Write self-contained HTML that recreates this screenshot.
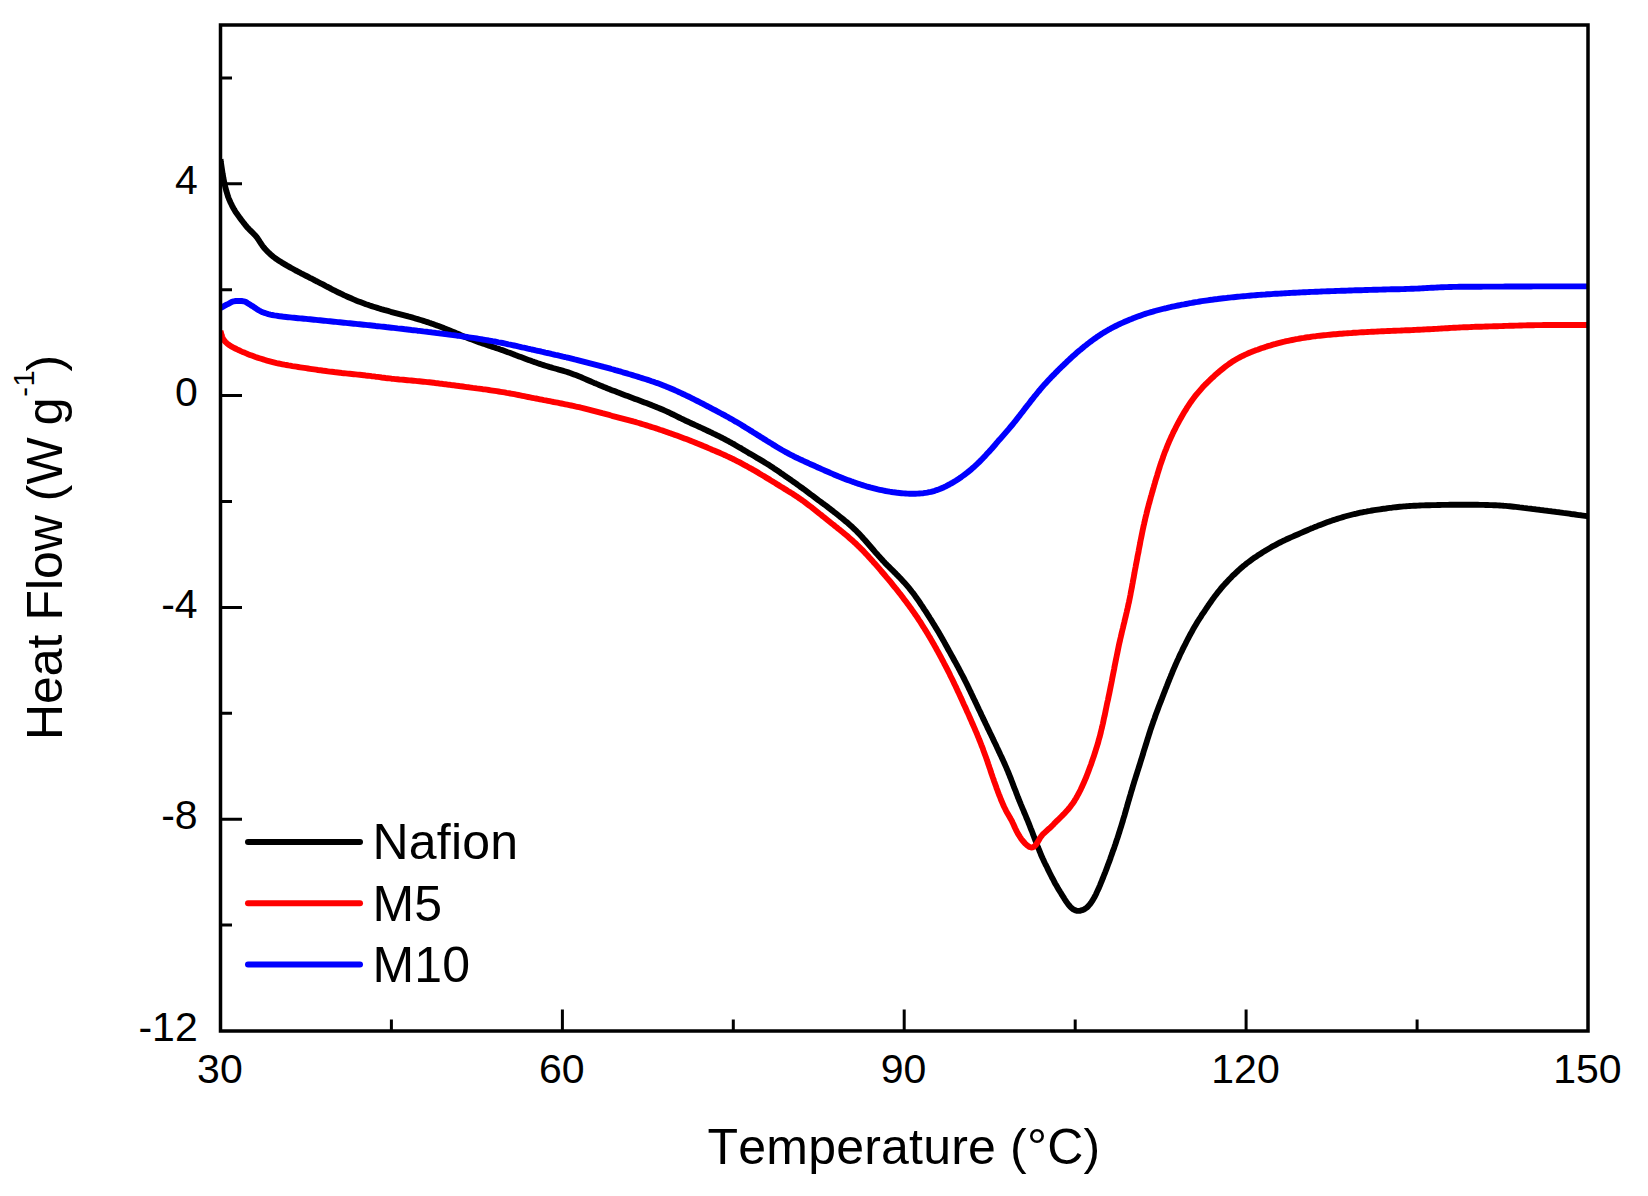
<!DOCTYPE html>
<html lang="en"><head><meta charset="utf-8"><title>Heat Flow vs Temperature</title>
<style>html,body{margin:0;padding:0;background:#fff}body{width:1648px;height:1196px;overflow:hidden}</style></head>
<body>
<svg width="1648" height="1196" viewBox="0 0 1648 1196" style="display:block">
<rect width="1648" height="1196" fill="#fff"/>
<defs><clipPath id="plot"><rect x="220.5" y="25.0" width="1367.5" height="1006.0"/></clipPath></defs>
<g fill="none" stroke-width="5.9" stroke-linejoin="round" stroke-linecap="butt" clip-path="url(#plot)">
<path d="M220.5,159.4 L220.6,159.8 L220.8,161.8 L221.1,163.8 L221.4,165.7 L221.7,167.7 L222.0,169.7 L222.3,171.7 L222.6,173.7 L223.0,175.6 L223.3,177.6 L223.7,179.6 L224.1,181.5 L224.5,183.5 L224.9,185.4 L225.4,187.4 L225.9,189.3 L226.4,191.2 L227.0,193.2 L227.6,195.1 L228.2,197.0 L228.9,198.8 L229.7,200.7 L230.5,202.5 L231.4,204.3 L232.3,206.1 L233.2,207.8 L234.2,209.6 L235.2,211.3 L236.3,213.0 L237.5,214.6 L238.6,216.2 L239.8,217.9 L241.0,219.4 L242.2,221.0 L243.4,222.6 L244.7,224.2 L245.9,225.8 L247.2,227.3 L248.6,228.7 L250.0,230.2 L251.4,231.6 L252.9,232.9 L254.3,234.4 L255.6,235.8 L256.9,237.4 L258.0,239.0 L259.1,240.7 L260.2,242.4 L261.3,244.0 L262.4,245.7 L263.6,247.3 L264.9,248.8 L266.3,250.3 L267.6,251.7 L269.1,253.1 L270.6,254.4 L272.1,255.7 L273.6,257.0 L275.2,258.2 L276.8,259.3 L278.5,260.4 L280.2,261.5 L281.9,262.6 L283.6,263.6 L285.3,264.6 L287.0,265.6 L288.8,266.6 L290.5,267.6 L292.2,268.5 L294.0,269.5 L295.7,270.5 L297.5,271.4 L299.3,272.3 L301.0,273.3 L302.8,274.2 L304.6,275.1 L306.4,276.0 L308.2,276.9 L309.9,277.8 L311.7,278.7 L313.5,279.6 L315.3,280.6 L317.1,281.5 L318.8,282.4 L320.6,283.3 L322.4,284.2 L324.2,285.2 L325.9,286.1 L327.7,287.0 L329.5,287.9 L331.2,288.9 L333.0,289.8 L334.8,290.7 L336.6,291.6 L338.4,292.5 L340.2,293.3 L342.0,294.2 L343.8,295.1 L345.6,295.9 L347.4,296.7 L349.2,297.5 L351.1,298.3 L352.9,299.1 L354.7,299.9 L356.6,300.7 L358.5,301.4 L360.3,302.1 L362.2,302.8 L364.1,303.5 L365.9,304.2 L367.8,304.8 L369.7,305.5 L371.6,306.1 L373.5,306.7 L375.4,307.3 L377.3,307.9 L379.2,308.5 L381.2,309.1 L383.1,309.6 L385.0,310.2 L386.9,310.7 L388.9,311.2 L390.8,311.8 L392.7,312.3 L394.6,312.8 L396.6,313.3 L398.5,313.8 L400.4,314.3 L402.4,314.8 L404.3,315.3 L406.2,315.8 L408.2,316.4 L410.1,316.9 L412.0,317.4 L413.9,318.0 L415.9,318.6 L417.8,319.1 L419.7,319.7 L421.6,320.3 L423.5,320.9 L425.4,321.5 L427.3,322.1 L429.2,322.8 L431.1,323.4 L433.0,324.1 L434.9,324.8 L436.7,325.4 L438.6,326.1 L440.5,326.8 L442.4,327.5 L444.2,328.3 L446.1,329.0 L447.9,329.7 L449.8,330.5 L451.6,331.3 L453.5,332.0 L455.3,332.8 L457.2,333.6 L459.0,334.3 L460.8,335.1 L462.7,335.9 L464.5,336.7 L466.4,337.4 L468.2,338.2 L470.1,338.9 L472.0,339.6 L473.8,340.3 L475.7,341.0 L477.6,341.7 L479.5,342.4 L481.3,343.0 L483.2,343.7 L485.1,344.3 L487.0,345.0 L488.9,345.6 L490.8,346.2 L492.7,346.9 L494.6,347.5 L496.5,348.2 L498.4,348.8 L500.3,349.5 L502.2,350.1 L504.0,350.8 L505.9,351.5 L507.8,352.2 L509.7,352.8 L511.5,353.5 L513.4,354.2 L515.3,355.0 L517.2,355.7 L519.0,356.4 L520.9,357.1 L522.8,357.8 L524.6,358.5 L526.5,359.2 L528.4,359.9 L530.3,360.6 L532.1,361.3 L534.0,361.9 L535.9,362.6 L537.8,363.3 L539.7,363.9 L541.6,364.5 L543.5,365.1 L545.4,365.7 L547.3,366.3 L549.2,366.9 L551.1,367.4 L553.0,368.0 L554.9,368.5 L556.8,369.0 L558.8,369.6 L560.7,370.1 L562.6,370.6 L564.5,371.2 L566.4,371.8 L568.3,372.4 L570.1,373.0 L572.0,373.7 L573.9,374.4 L575.7,375.1 L577.6,375.8 L579.4,376.6 L581.3,377.3 L583.1,378.1 L584.9,378.9 L586.8,379.7 L588.6,380.5 L590.4,381.3 L592.3,382.1 L594.1,382.9 L595.9,383.6 L597.8,384.4 L599.6,385.2 L601.5,385.9 L603.3,386.7 L605.2,387.4 L607.0,388.2 L608.9,388.9 L610.7,389.7 L612.6,390.4 L614.5,391.1 L616.3,391.8 L618.2,392.6 L620.1,393.3 L621.9,394.0 L623.8,394.7 L625.7,395.4 L627.6,396.1 L629.4,396.8 L631.3,397.5 L633.2,398.2 L635.0,398.9 L636.9,399.6 L638.8,400.3 L640.7,401.0 L642.5,401.7 L644.4,402.4 L646.3,403.1 L648.1,403.8 L650.0,404.5 L651.9,405.3 L653.7,406.0 L655.6,406.7 L657.4,407.5 L659.3,408.2 L661.1,409.0 L663.0,409.8 L664.8,410.6 L666.6,411.4 L668.4,412.2 L670.2,413.1 L672.0,414.0 L673.8,414.8 L675.5,415.7 L677.3,416.6 L679.1,417.5 L680.9,418.4 L682.7,419.2 L684.5,420.1 L686.3,421.0 L688.1,421.8 L689.9,422.6 L691.7,423.5 L693.5,424.3 L695.3,425.1 L697.1,425.9 L699.0,426.8 L700.8,427.6 L702.6,428.4 L704.4,429.3 L706.2,430.1 L708.0,431.0 L709.8,431.8 L711.6,432.7 L713.4,433.6 L715.2,434.4 L717.0,435.3 L718.8,436.2 L720.6,437.1 L722.4,438.0 L724.1,438.9 L725.9,439.9 L727.7,440.8 L729.4,441.8 L731.2,442.7 L732.9,443.7 L734.7,444.7 L736.4,445.7 L738.1,446.7 L739.8,447.7 L741.6,448.7 L743.3,449.7 L745.0,450.8 L746.7,451.8 L748.4,452.8 L750.2,453.8 L751.9,454.8 L753.6,455.8 L755.3,456.8 L757.0,457.9 L758.8,458.9 L760.5,459.9 L762.2,460.9 L763.9,461.9 L765.6,463.0 L767.3,464.0 L769.0,465.1 L770.7,466.2 L772.4,467.3 L774.0,468.4 L775.7,469.5 L777.3,470.6 L779.0,471.7 L780.6,472.9 L782.3,474.0 L783.9,475.1 L785.5,476.3 L787.2,477.4 L788.8,478.6 L790.5,479.7 L792.1,480.9 L793.7,482.0 L795.4,483.2 L797.0,484.3 L798.6,485.5 L800.2,486.7 L801.8,487.8 L803.5,489.0 L805.1,490.2 L806.7,491.4 L808.3,492.6 L809.9,493.8 L811.5,495.0 L813.1,496.2 L814.7,497.4 L816.3,498.6 L817.9,499.8 L819.5,501.0 L821.1,502.2 L822.7,503.4 L824.3,504.5 L825.9,505.7 L827.5,506.9 L829.1,508.2 L830.7,509.4 L832.3,510.6 L833.8,511.8 L835.4,513.0 L837.0,514.3 L838.5,515.5 L840.1,516.8 L841.7,518.0 L843.2,519.3 L844.7,520.6 L846.3,521.8 L847.8,523.1 L849.3,524.4 L850.8,525.8 L852.3,527.1 L853.7,528.5 L855.2,529.9 L856.6,531.2 L858.0,532.7 L859.4,534.1 L860.7,535.5 L862.1,537.0 L863.4,538.5 L864.8,540.0 L866.1,541.5 L867.4,543.0 L868.7,544.5 L870.0,546.0 L871.3,547.5 L872.6,549.0 L873.9,550.5 L875.2,552.1 L876.5,553.6 L877.9,555.1 L879.2,556.6 L880.5,558.0 L881.9,559.5 L883.2,561.0 L884.6,562.4 L886.0,563.9 L887.4,565.3 L888.8,566.7 L890.2,568.1 L891.6,569.5 L893.1,570.9 L894.5,572.3 L895.9,573.7 L897.3,575.2 L898.7,576.6 L900.1,578.0 L901.5,579.5 L902.8,580.9 L904.2,582.4 L905.5,583.9 L906.8,585.4 L908.1,586.9 L909.4,588.4 L910.6,590.0 L911.8,591.6 L913.1,593.1 L914.3,594.7 L915.4,596.3 L916.6,598.0 L917.7,599.6 L918.9,601.2 L920.0,602.9 L921.1,604.6 L922.2,606.2 L923.3,607.9 L924.4,609.6 L925.5,611.2 L926.6,612.9 L927.7,614.6 L928.8,616.3 L929.8,618.0 L930.9,619.7 L932.0,621.4 L933.0,623.1 L934.1,624.8 L935.1,626.5 L936.1,628.2 L937.2,629.9 L938.2,631.6 L939.2,633.3 L940.2,635.1 L941.2,636.8 L942.2,638.5 L943.2,640.3 L944.2,642.0 L945.1,643.8 L946.1,645.5 L947.1,647.3 L948.0,649.0 L949.0,650.8 L950.0,652.5 L950.9,654.3 L951.9,656.0 L952.9,657.8 L953.8,659.5 L954.8,661.3 L955.8,663.0 L956.7,664.8 L957.7,666.5 L958.6,668.3 L959.6,670.1 L960.5,671.8 L961.4,673.6 L962.4,675.4 L963.3,677.1 L964.2,678.9 L965.1,680.7 L966.0,682.5 L966.9,684.3 L967.8,686.1 L968.6,687.9 L969.5,689.7 L970.4,691.5 L971.2,693.3 L972.1,695.1 L972.9,696.9 L973.8,698.7 L974.7,700.5 L975.5,702.3 L976.4,704.1 L977.2,705.9 L978.1,707.7 L978.9,709.5 L979.8,711.3 L980.7,713.1 L981.5,715.0 L982.4,716.8 L983.2,718.6 L984.1,720.4 L985.0,722.2 L985.8,724.0 L986.7,725.8 L987.5,727.6 L988.4,729.4 L989.3,731.2 L990.1,733.0 L991.0,734.8 L991.9,736.6 L992.7,738.4 L993.6,740.2 L994.4,742.0 L995.3,743.8 L996.2,745.6 L997.0,747.4 L997.9,749.3 L998.7,751.1 L999.6,752.9 L1000.4,754.7 L1001.3,756.5 L1002.1,758.3 L1002.9,760.1 L1003.8,762.0 L1004.6,763.8 L1005.4,765.6 L1006.2,767.4 L1007.0,769.3 L1007.8,771.1 L1008.5,773.0 L1009.3,774.8 L1010.0,776.7 L1010.8,778.5 L1011.5,780.4 L1012.2,782.3 L1012.9,784.1 L1013.6,786.0 L1014.3,787.9 L1015.1,789.7 L1015.8,791.6 L1016.5,793.5 L1017.2,795.3 L1017.9,797.2 L1018.7,799.0 L1019.4,800.9 L1020.2,802.7 L1020.9,804.6 L1021.7,806.4 L1022.5,808.3 L1023.3,810.1 L1024.0,812.0 L1024.8,813.8 L1025.6,815.6 L1026.3,817.5 L1027.1,819.3 L1027.9,821.2 L1028.6,823.0 L1029.4,824.9 L1030.1,826.8 L1030.8,828.6 L1031.6,830.5 L1032.3,832.3 L1033.0,834.2 L1033.7,836.1 L1034.4,837.9 L1035.1,839.8 L1035.9,841.7 L1036.6,843.5 L1037.3,845.4 L1038.0,847.3 L1038.8,849.1 L1039.5,851.0 L1040.3,852.8 L1041.0,854.7 L1041.8,856.5 L1042.6,858.3 L1043.5,860.1 L1044.3,862.0 L1045.2,863.8 L1046.1,865.5 L1047.0,867.3 L1047.8,869.1 L1048.7,870.9 L1049.6,872.7 L1050.5,874.5 L1051.4,876.3 L1052.3,878.1 L1053.3,879.8 L1054.2,881.6 L1055.1,883.4 L1056.1,885.1 L1057.1,886.8 L1058.1,888.6 L1059.2,890.3 L1060.2,892.0 L1061.3,893.7 L1062.3,895.4 L1063.4,897.1 L1064.4,898.8 L1065.5,900.5 L1066.6,902.1 L1067.7,903.7 L1069.0,905.3 L1070.3,906.8 L1071.7,908.1 L1073.3,909.3 L1074.9,910.1 L1076.6,910.7 L1078.5,910.9 L1080.3,910.7 L1082.1,910.2 L1083.9,909.5 L1085.5,908.5 L1087.1,907.3 L1088.5,905.9 L1089.8,904.4 L1091.0,902.8 L1092.1,901.2 L1093.1,899.5 L1094.1,897.8 L1095.1,896.0 L1096.0,894.2 L1096.8,892.4 L1097.6,890.6 L1098.5,888.8 L1099.3,886.9 L1100.1,885.1 L1100.8,883.2 L1101.6,881.4 L1102.3,879.5 L1103.1,877.7 L1103.8,875.8 L1104.5,874.0 L1105.3,872.1 L1106.0,870.2 L1106.7,868.4 L1107.4,866.5 L1108.1,864.6 L1108.8,862.7 L1109.5,860.9 L1110.2,859.0 L1110.8,857.1 L1111.5,855.2 L1112.2,853.3 L1112.8,851.4 L1113.5,849.6 L1114.2,847.7 L1114.8,845.8 L1115.5,843.9 L1116.1,842.0 L1116.7,840.1 L1117.4,838.2 L1118.0,836.3 L1118.6,834.4 L1119.2,832.5 L1119.8,830.6 L1120.4,828.7 L1121.0,826.8 L1121.6,824.9 L1122.2,822.9 L1122.8,821.0 L1123.3,819.1 L1123.9,817.2 L1124.5,815.3 L1125.0,813.4 L1125.6,811.4 L1126.1,809.5 L1126.7,807.6 L1127.2,805.7 L1127.8,803.7 L1128.3,801.8 L1128.9,799.9 L1129.4,798.0 L1130.0,796.1 L1130.6,794.1 L1131.1,792.2 L1131.7,790.3 L1132.3,788.4 L1132.8,786.5 L1133.4,784.6 L1134.0,782.6 L1134.6,780.7 L1135.2,778.8 L1135.8,776.9 L1136.4,775.0 L1137.0,773.1 L1137.6,771.2 L1138.2,769.3 L1138.8,767.4 L1139.4,765.5 L1140.0,763.6 L1140.6,761.7 L1141.2,759.7 L1141.8,757.8 L1142.4,755.9 L1143.0,754.0 L1143.5,752.1 L1144.1,750.2 L1144.7,748.3 L1145.3,746.4 L1145.9,744.5 L1146.5,742.6 L1147.1,740.6 L1147.7,738.7 L1148.3,736.8 L1148.9,734.9 L1149.5,733.0 L1150.1,731.1 L1150.7,729.2 L1151.4,727.3 L1152.0,725.4 L1152.7,723.5 L1153.3,721.6 L1154.0,719.8 L1154.7,717.9 L1155.3,716.0 L1156.0,714.1 L1156.7,712.2 L1157.4,710.4 L1158.1,708.5 L1158.8,706.6 L1159.5,704.8 L1160.2,702.9 L1161.0,701.0 L1161.7,699.2 L1162.4,697.3 L1163.1,695.4 L1163.8,693.6 L1164.6,691.7 L1165.3,689.8 L1166.0,688.0 L1166.8,686.1 L1167.5,684.2 L1168.2,682.4 L1169.0,680.5 L1169.7,678.7 L1170.5,676.8 L1171.2,675.0 L1172.0,673.1 L1172.7,671.3 L1173.5,669.4 L1174.3,667.6 L1175.1,665.8 L1175.9,663.9 L1176.7,662.1 L1177.5,660.3 L1178.4,658.5 L1179.2,656.6 L1180.0,654.8 L1180.9,653.0 L1181.8,651.2 L1182.6,649.4 L1183.5,647.6 L1184.4,645.8 L1185.3,644.1 L1186.2,642.3 L1187.1,640.5 L1188.0,638.7 L1189.0,636.9 L1189.9,635.2 L1190.8,633.4 L1191.8,631.7 L1192.8,629.9 L1193.7,628.2 L1194.7,626.5 L1195.8,624.7 L1196.8,623.0 L1197.8,621.3 L1198.9,619.7 L1200.0,618.0 L1201.1,616.3 L1202.1,614.6 L1203.3,613.0 L1204.4,611.3 L1205.5,609.7 L1206.6,608.0 L1207.7,606.4 L1208.8,604.7 L1210.0,603.1 L1211.1,601.5 L1212.2,599.8 L1213.4,598.2 L1214.6,596.6 L1215.8,595.0 L1217.0,593.4 L1218.2,591.9 L1219.5,590.3 L1220.7,588.8 L1222.0,587.3 L1223.3,585.8 L1224.7,584.3 L1226.0,582.8 L1227.4,581.4 L1228.7,579.9 L1230.1,578.5 L1231.5,577.1 L1232.9,575.6 L1234.4,574.3 L1235.8,572.9 L1237.3,571.5 L1238.7,570.2 L1240.2,568.8 L1241.7,567.5 L1243.2,566.2 L1244.8,565.0 L1246.3,563.7 L1247.9,562.5 L1249.5,561.3 L1251.1,560.1 L1252.7,558.9 L1254.3,557.8 L1256.0,556.7 L1257.6,555.6 L1259.3,554.5 L1261.0,553.4 L1262.7,552.3 L1264.4,551.3 L1266.1,550.2 L1267.8,549.2 L1269.5,548.2 L1271.2,547.2 L1273.0,546.2 L1274.7,545.3 L1276.5,544.3 L1278.2,543.4 L1280.0,542.5 L1281.8,541.6 L1283.6,540.7 L1285.4,539.9 L1287.2,539.0 L1289.0,538.2 L1290.8,537.4 L1292.7,536.6 L1294.5,535.8 L1296.3,535.0 L1298.2,534.2 L1300.0,533.4 L1301.8,532.6 L1303.7,531.8 L1305.5,531.0 L1307.3,530.2 L1309.2,529.4 L1311.0,528.6 L1312.8,527.9 L1314.7,527.1 L1316.5,526.4 L1318.4,525.6 L1320.2,524.9 L1322.1,524.2 L1324.0,523.5 L1325.8,522.8 L1327.7,522.1 L1329.6,521.4 L1331.5,520.8 L1333.4,520.1 L1335.3,519.5 L1337.2,518.9 L1339.1,518.3 L1341.0,517.7 L1342.9,517.1 L1344.8,516.5 L1346.7,516.0 L1348.7,515.5 L1350.6,515.0 L1352.5,514.5 L1354.5,514.0 L1356.4,513.6 L1358.4,513.1 L1360.3,512.7 L1362.3,512.3 L1364.2,511.9 L1366.2,511.6 L1368.2,511.2 L1370.1,510.9 L1372.1,510.5 L1374.1,510.2 L1376.0,509.9 L1378.0,509.6 L1380.0,509.3 L1382.0,509.0 L1384.0,508.7 L1385.9,508.5 L1387.9,508.2 L1389.9,507.9 L1391.9,507.7 L1393.9,507.4 L1395.8,507.2 L1397.8,507.0 L1399.8,506.8 L1401.8,506.6 L1403.8,506.4 L1405.8,506.3 L1407.8,506.1 L1409.8,506.0 L1411.8,505.9 L1413.8,505.8 L1415.8,505.7 L1417.8,505.6 L1419.8,505.5 L1421.8,505.4 L1423.8,505.4 L1425.8,505.3 L1427.8,505.3 L1429.8,505.2 L1431.8,505.1 L1433.8,505.1 L1435.8,505.1 L1437.8,505.0 L1439.8,505.0 L1441.8,504.9 L1443.8,504.9 L1445.8,504.9 L1447.8,504.9 L1449.8,504.8 L1451.8,504.8 L1453.8,504.8 L1455.8,504.8 L1457.8,504.8 L1459.8,504.8 L1461.8,504.8 L1463.8,504.8 L1465.8,504.8 L1467.8,504.8 L1469.8,504.8 L1471.8,504.8 L1473.8,504.8 L1475.8,504.8 L1477.8,504.8 L1479.7,504.9 L1481.7,504.9 L1483.7,504.9 L1485.7,505.0 L1487.7,505.0 L1489.7,505.1 L1491.7,505.1 L1493.7,505.2 L1495.7,505.3 L1497.7,505.4 L1499.7,505.5 L1501.7,505.6 L1503.7,505.8 L1505.7,505.9 L1507.7,506.1 L1509.7,506.3 L1511.7,506.5 L1513.7,506.7 L1515.6,506.9 L1517.6,507.1 L1519.6,507.4 L1521.6,507.6 L1523.6,507.9 L1525.6,508.1 L1527.6,508.4 L1529.5,508.6 L1531.5,508.8 L1533.5,509.1 L1535.5,509.3 L1537.5,509.6 L1539.5,509.8 L1541.4,510.1 L1543.4,510.3 L1545.4,510.6 L1547.4,510.8 L1549.4,511.1 L1551.4,511.3 L1553.4,511.6 L1555.3,511.8 L1557.3,512.1 L1559.3,512.3 L1561.3,512.6 L1563.3,512.9 L1565.2,513.1 L1567.2,513.4 L1569.2,513.7 L1571.2,514.0 L1573.2,514.2 L1575.2,514.5 L1577.1,514.8 L1579.1,515.1 L1581.1,515.3 L1583.1,515.6 L1585.0,515.9 L1587.0,516.2 L1588.0,516.3" stroke="#000"/>
<path d="M220.5,330.6 L220.6,331.1 L221.1,333.1 L221.6,335.0 L222.2,336.9 L223.0,338.7 L224.1,340.3 L225.4,341.9 L226.8,343.2 L228.4,344.5 L230.0,345.6 L231.7,346.7 L233.5,347.6 L235.3,348.5 L237.1,349.4 L238.9,350.2 L240.7,351.1 L242.5,351.9 L244.4,352.6 L246.2,353.4 L248.1,354.2 L249.9,354.9 L251.8,355.6 L253.7,356.3 L255.5,357.0 L257.4,357.6 L259.3,358.2 L261.2,358.8 L263.1,359.4 L265.0,360.0 L267.0,360.6 L268.9,361.1 L270.8,361.6 L272.7,362.1 L274.7,362.6 L276.6,363.1 L278.6,363.5 L280.5,363.9 L282.5,364.3 L284.4,364.7 L286.4,365.0 L288.4,365.4 L290.3,365.7 L292.3,366.1 L294.3,366.4 L296.3,366.7 L298.2,367.0 L300.2,367.3 L302.2,367.6 L304.2,367.9 L306.1,368.2 L308.1,368.5 L310.1,368.8 L312.1,369.1 L314.1,369.4 L316.0,369.7 L318.0,370.0 L320.0,370.2 L322.0,370.5 L324.0,370.8 L325.9,371.0 L327.9,371.3 L329.9,371.6 L331.9,371.8 L333.9,372.0 L335.9,372.3 L337.9,372.5 L339.8,372.7 L341.8,373.0 L343.8,373.2 L345.8,373.4 L347.8,373.6 L349.8,373.8 L351.8,374.0 L353.8,374.2 L355.7,374.4 L357.7,374.6 L359.7,374.8 L361.7,375.0 L363.7,375.2 L365.7,375.5 L367.7,375.7 L369.7,375.9 L371.6,376.2 L373.6,376.4 L375.6,376.7 L377.6,376.9 L379.6,377.2 L381.6,377.5 L383.5,377.7 L385.5,378.0 L387.5,378.2 L389.5,378.4 L391.5,378.7 L393.5,378.9 L395.4,379.1 L397.4,379.3 L399.4,379.5 L401.4,379.6 L403.4,379.8 L405.4,380.0 L407.4,380.2 L409.4,380.4 L411.4,380.5 L413.4,380.7 L415.4,380.9 L417.3,381.1 L419.3,381.3 L421.3,381.5 L423.3,381.7 L425.3,381.9 L427.3,382.1 L429.3,382.3 L431.3,382.5 L433.3,382.7 L435.2,383.0 L437.2,383.2 L439.2,383.5 L441.2,383.7 L443.2,384.0 L445.2,384.2 L447.2,384.5 L449.1,384.7 L451.1,385.0 L453.1,385.2 L455.1,385.5 L457.1,385.8 L459.0,386.0 L461.0,386.3 L463.0,386.5 L465.0,386.8 L467.0,387.1 L469.0,387.3 L470.9,387.6 L472.9,387.9 L474.9,388.1 L476.9,388.4 L478.9,388.6 L480.9,388.9 L482.8,389.2 L484.8,389.4 L486.8,389.7 L488.8,390.0 L490.8,390.3 L492.7,390.6 L494.7,390.9 L496.7,391.2 L498.7,391.5 L500.6,391.8 L502.6,392.1 L504.6,392.4 L506.6,392.8 L508.5,393.1 L510.5,393.5 L512.5,393.8 L514.4,394.2 L516.4,394.6 L518.4,395.0 L520.3,395.4 L522.3,395.8 L524.2,396.2 L526.2,396.6 L528.1,397.0 L530.1,397.4 L532.1,397.8 L534.0,398.2 L536.0,398.5 L537.9,398.9 L539.9,399.3 L541.9,399.7 L543.8,400.1 L545.8,400.4 L547.8,400.8 L549.7,401.2 L551.7,401.6 L553.6,402.0 L555.6,402.3 L557.6,402.7 L559.5,403.1 L561.5,403.5 L563.4,403.9 L565.4,404.3 L567.3,404.7 L569.3,405.1 L571.3,405.5 L573.2,405.9 L575.2,406.4 L577.1,406.8 L579.1,407.2 L581.0,407.7 L582.9,408.1 L584.9,408.6 L586.8,409.1 L588.8,409.6 L590.7,410.1 L592.6,410.6 L594.6,411.1 L596.5,411.6 L598.4,412.1 L600.3,412.6 L602.3,413.2 L604.2,413.7 L606.1,414.2 L608.1,414.7 L610.0,415.2 L611.9,415.8 L613.8,416.3 L615.8,416.8 L617.7,417.3 L619.6,417.8 L621.6,418.3 L623.5,418.8 L625.4,419.3 L627.4,419.8 L629.3,420.3 L631.2,420.8 L633.2,421.4 L635.1,421.9 L637.0,422.5 L638.9,423.0 L640.8,423.6 L642.7,424.2 L644.6,424.8 L646.5,425.4 L648.5,426.0 L650.4,426.6 L652.3,427.2 L654.2,427.8 L656.1,428.4 L658.0,429.0 L659.9,429.7 L661.8,430.3 L663.6,430.9 L665.5,431.6 L667.4,432.2 L669.3,432.9 L671.2,433.6 L673.1,434.2 L675.0,434.9 L676.8,435.6 L678.7,436.3 L680.6,437.0 L682.5,437.7 L684.3,438.4 L686.2,439.1 L688.1,439.8 L689.9,440.5 L691.8,441.3 L693.7,442.0 L695.5,442.7 L697.4,443.5 L699.2,444.2 L701.1,445.0 L702.9,445.8 L704.7,446.5 L706.6,447.3 L708.4,448.1 L710.3,448.9 L712.1,449.7 L714.0,450.4 L715.8,451.2 L717.6,452.0 L719.5,452.8 L721.3,453.6 L723.1,454.4 L724.9,455.2 L726.8,456.1 L728.6,456.9 L730.4,457.8 L732.2,458.6 L734.0,459.5 L735.7,460.4 L737.5,461.3 L739.3,462.2 L741.1,463.2 L742.8,464.1 L744.6,465.1 L746.4,466.0 L748.1,467.0 L749.8,468.0 L751.6,468.9 L753.3,469.9 L755.1,470.9 L756.8,471.9 L758.5,472.9 L760.2,474.0 L761.9,475.0 L763.7,476.0 L765.4,477.1 L767.1,478.1 L768.8,479.1 L770.5,480.2 L772.2,481.2 L773.9,482.3 L775.6,483.3 L777.3,484.4 L779.0,485.4 L780.7,486.5 L782.4,487.5 L784.1,488.6 L785.8,489.6 L787.5,490.7 L789.2,491.7 L790.9,492.8 L792.6,493.8 L794.3,494.9 L795.9,496.0 L797.6,497.1 L799.2,498.2 L800.9,499.4 L802.5,500.5 L804.1,501.7 L805.7,502.9 L807.3,504.1 L808.9,505.3 L810.5,506.5 L812.1,507.7 L813.7,509.0 L815.2,510.2 L816.8,511.5 L818.3,512.7 L819.9,514.0 L821.5,515.2 L823.0,516.5 L824.6,517.7 L826.2,519.0 L827.7,520.2 L829.3,521.5 L830.8,522.7 L832.4,524.0 L834.0,525.2 L835.5,526.5 L837.1,527.7 L838.6,529.0 L840.2,530.2 L841.8,531.5 L843.3,532.7 L844.8,534.0 L846.4,535.3 L847.9,536.6 L849.4,537.9 L850.9,539.2 L852.4,540.5 L853.9,541.9 L855.4,543.2 L856.8,544.6 L858.2,546.0 L859.7,547.4 L861.1,548.8 L862.5,550.2 L863.9,551.6 L865.2,553.1 L866.6,554.5 L868.0,556.0 L869.3,557.5 L870.7,559.0 L872.0,560.4 L873.3,561.9 L874.7,563.4 L876.0,564.9 L877.3,566.4 L878.6,567.9 L879.9,569.4 L881.2,571.0 L882.5,572.5 L883.8,574.0 L885.1,575.5 L886.4,577.1 L887.7,578.6 L889.0,580.1 L890.3,581.7 L891.5,583.2 L892.8,584.8 L894.0,586.3 L895.3,587.9 L896.6,589.4 L897.8,591.0 L899.0,592.6 L900.3,594.1 L901.5,595.7 L902.7,597.3 L903.9,598.9 L905.1,600.5 L906.3,602.1 L907.5,603.7 L908.7,605.3 L909.9,606.9 L911.1,608.5 L912.2,610.2 L913.4,611.8 L914.5,613.4 L915.6,615.1 L916.8,616.7 L917.9,618.4 L919.0,620.1 L920.1,621.7 L921.2,623.4 L922.2,625.1 L923.3,626.8 L924.4,628.5 L925.4,630.2 L926.5,631.9 L927.5,633.6 L928.5,635.3 L929.6,637.0 L930.6,638.8 L931.6,640.5 L932.6,642.2 L933.6,643.9 L934.6,645.7 L935.6,647.4 L936.5,649.2 L937.5,650.9 L938.5,652.7 L939.4,654.4 L940.4,656.2 L941.3,657.9 L942.2,659.7 L943.2,661.5 L944.1,663.3 L945.0,665.0 L945.9,666.8 L946.9,668.6 L947.8,670.4 L948.7,672.2 L949.6,673.9 L950.4,675.7 L951.3,677.5 L952.2,679.3 L953.1,681.1 L953.9,682.9 L954.8,684.7 L955.7,686.5 L956.5,688.3 L957.4,690.2 L958.2,692.0 L959.1,693.8 L959.9,695.6 L960.7,697.4 L961.6,699.2 L962.4,701.1 L963.2,702.9 L964.0,704.7 L964.9,706.5 L965.7,708.3 L966.5,710.2 L967.3,712.0 L968.2,713.8 L969.0,715.6 L969.8,717.5 L970.6,719.3 L971.4,721.1 L972.2,723.0 L973.0,724.8 L973.8,726.6 L974.6,728.4 L975.4,730.3 L976.2,732.1 L977.0,734.0 L977.7,735.8 L978.5,737.7 L979.2,739.5 L980.0,741.4 L980.7,743.2 L981.4,745.1 L982.2,747.0 L982.9,748.8 L983.5,750.7 L984.2,752.6 L984.9,754.5 L985.6,756.3 L986.3,758.2 L986.9,760.1 L987.6,762.0 L988.2,763.9 L988.9,765.8 L989.5,767.7 L990.2,769.6 L990.8,771.5 L991.4,773.4 L992.1,775.3 L992.7,777.2 L993.4,779.0 L994.0,780.9 L994.7,782.8 L995.4,784.7 L996.1,786.6 L996.7,788.5 L997.4,790.3 L998.1,792.2 L998.8,794.1 L999.6,796.0 L1000.3,797.8 L1001.0,799.7 L1001.8,801.5 L1002.6,803.4 L1003.4,805.2 L1004.2,807.0 L1005.1,808.8 L1006.0,810.6 L1006.9,812.3 L1007.9,814.1 L1008.9,815.8 L1009.9,817.5 L1010.9,819.3 L1011.9,821.0 L1012.7,822.8 L1013.6,824.6 L1014.4,826.5 L1015.2,828.3 L1016.1,830.1 L1017.0,831.9 L1017.9,833.6 L1019.0,835.3 L1020.0,837.0 L1021.1,838.7 L1022.3,840.3 L1023.6,841.8 L1024.9,843.3 L1026.4,844.7 L1027.9,845.9 L1029.5,847.0 L1031.2,847.5 L1032.9,847.3 L1034.4,846.4 L1035.8,845.0 L1036.9,843.4 L1037.9,841.7 L1038.9,840.0 L1039.8,838.3 L1041.0,836.6 L1042.2,835.1 L1043.6,833.6 L1045.0,832.3 L1046.5,830.9 L1048.0,829.6 L1049.5,828.3 L1051.0,826.9 L1052.4,825.5 L1053.8,824.1 L1055.2,822.6 L1056.6,821.2 L1058.0,819.8 L1059.5,818.4 L1060.9,817.0 L1062.3,815.6 L1063.7,814.2 L1065.1,812.7 L1066.4,811.3 L1067.8,809.8 L1069.1,808.3 L1070.3,806.7 L1071.5,805.1 L1072.7,803.5 L1073.8,801.9 L1074.8,800.2 L1075.9,798.5 L1076.9,796.8 L1077.8,795.0 L1078.8,793.3 L1079.7,791.5 L1080.6,789.7 L1081.4,787.9 L1082.3,786.1 L1083.1,784.3 L1083.9,782.5 L1084.7,780.6 L1085.5,778.8 L1086.3,777.0 L1087.0,775.1 L1087.7,773.2 L1088.4,771.4 L1089.1,769.5 L1089.8,767.6 L1090.5,765.8 L1091.2,763.9 L1091.8,762.0 L1092.5,760.1 L1093.1,758.2 L1093.8,756.3 L1094.4,754.4 L1095.0,752.5 L1095.6,750.6 L1096.2,748.7 L1096.8,746.8 L1097.4,744.9 L1098.0,743.0 L1098.5,741.0 L1099.0,739.1 L1099.6,737.2 L1100.1,735.3 L1100.6,733.3 L1101.0,731.4 L1101.5,729.4 L1102.0,727.5 L1102.4,725.6 L1102.9,723.6 L1103.3,721.6 L1103.7,719.7 L1104.1,717.7 L1104.6,715.8 L1105.0,713.8 L1105.4,711.9 L1105.8,709.9 L1106.2,708.0 L1106.6,706.0 L1107.0,704.0 L1107.4,702.1 L1107.9,700.1 L1108.3,698.2 L1108.7,696.2 L1109.1,694.3 L1109.5,692.3 L1109.9,690.3 L1110.3,688.4 L1110.7,686.4 L1111.1,684.5 L1111.5,682.5 L1111.9,680.5 L1112.2,678.6 L1112.6,676.6 L1113.0,674.6 L1113.4,672.7 L1113.8,670.7 L1114.2,668.8 L1114.5,666.8 L1114.9,664.8 L1115.3,662.9 L1115.7,660.9 L1116.1,658.9 L1116.5,657.0 L1116.9,655.0 L1117.3,653.1 L1117.7,651.1 L1118.1,649.1 L1118.5,647.2 L1118.9,645.2 L1119.3,643.3 L1119.8,641.3 L1120.2,639.4 L1120.7,637.4 L1121.1,635.5 L1121.6,633.5 L1122.0,631.6 L1122.5,629.6 L1123.0,627.7 L1123.4,625.8 L1123.9,623.8 L1124.4,621.9 L1124.8,619.9 L1125.3,618.0 L1125.8,616.0 L1126.2,614.1 L1126.7,612.1 L1127.1,610.2 L1127.6,608.2 L1128.0,606.3 L1128.4,604.3 L1128.9,602.4 L1129.3,600.4 L1129.7,598.5 L1130.1,596.5 L1130.5,594.5 L1130.8,592.6 L1131.2,590.6 L1131.6,588.7 L1132.0,586.7 L1132.3,584.7 L1132.7,582.8 L1133.0,580.8 L1133.4,578.8 L1133.8,576.9 L1134.1,574.9 L1134.5,572.9 L1134.8,571.0 L1135.2,569.0 L1135.6,567.0 L1135.9,565.1 L1136.3,563.1 L1136.7,561.1 L1137.1,559.2 L1137.4,557.2 L1137.8,555.2 L1138.2,553.3 L1138.6,551.3 L1138.9,549.3 L1139.3,547.4 L1139.7,545.4 L1140.1,543.4 L1140.4,541.5 L1140.8,539.5 L1141.2,537.6 L1141.6,535.6 L1142.0,533.6 L1142.4,531.7 L1142.8,529.7 L1143.2,527.8 L1143.6,525.8 L1144.1,523.9 L1144.5,521.9 L1145.0,520.0 L1145.4,518.0 L1145.9,516.1 L1146.4,514.1 L1146.8,512.2 L1147.3,510.2 L1147.8,508.3 L1148.3,506.4 L1148.8,504.4 L1149.4,502.5 L1149.9,500.6 L1150.4,498.7 L1150.9,496.7 L1151.5,494.8 L1152.0,492.9 L1152.6,491.0 L1153.1,489.0 L1153.7,487.1 L1154.2,485.2 L1154.8,483.3 L1155.3,481.3 L1155.9,479.4 L1156.5,477.5 L1157.1,475.6 L1157.6,473.7 L1158.2,471.8 L1158.8,469.9 L1159.4,468.0 L1160.0,466.0 L1160.6,464.1 L1161.3,462.3 L1161.9,460.4 L1162.6,458.5 L1163.2,456.6 L1163.9,454.7 L1164.6,452.8 L1165.3,451.0 L1166.1,449.1 L1166.8,447.3 L1167.5,445.4 L1168.3,443.6 L1169.1,441.7 L1169.9,439.9 L1170.7,438.1 L1171.5,436.3 L1172.4,434.4 L1173.2,432.6 L1174.1,430.8 L1175.0,429.1 L1175.9,427.3 L1176.8,425.5 L1177.7,423.7 L1178.7,422.0 L1179.6,420.2 L1180.6,418.5 L1181.6,416.7 L1182.6,415.0 L1183.6,413.3 L1184.6,411.6 L1185.7,409.9 L1186.7,408.2 L1187.8,406.5 L1188.9,404.8 L1190.0,403.2 L1191.2,401.5 L1192.3,399.9 L1193.5,398.3 L1194.7,396.7 L1195.9,395.2 L1197.2,393.6 L1198.5,392.1 L1199.8,390.6 L1201.1,389.1 L1202.4,387.6 L1203.8,386.1 L1205.1,384.7 L1206.5,383.3 L1208.0,381.9 L1209.4,380.5 L1210.8,379.1 L1212.3,377.7 L1213.8,376.4 L1215.2,375.0 L1216.7,373.7 L1218.3,372.4 L1219.8,371.1 L1221.3,369.9 L1222.9,368.6 L1224.4,367.4 L1226.0,366.2 L1227.6,365.0 L1229.2,363.8 L1230.8,362.7 L1232.5,361.6 L1234.2,360.5 L1235.9,359.5 L1237.6,358.5 L1239.3,357.6 L1241.1,356.6 L1242.9,355.8 L1244.7,354.9 L1246.5,354.1 L1248.3,353.3 L1250.1,352.5 L1252.0,351.8 L1253.8,351.1 L1255.7,350.3 L1257.6,349.7 L1259.5,349.0 L1261.3,348.3 L1263.2,347.7 L1265.1,347.1 L1267.0,346.4 L1268.9,345.8 L1270.8,345.3 L1272.8,344.7 L1274.7,344.2 L1276.6,343.6 L1278.5,343.1 L1280.5,342.6 L1282.4,342.1 L1284.3,341.7 L1286.3,341.2 L1288.2,340.8 L1290.2,340.4 L1292.2,340.0 L1294.1,339.6 L1296.1,339.2 L1298.0,338.9 L1300.0,338.5 L1302.0,338.2 L1304.0,337.9 L1305.9,337.5 L1307.9,337.2 L1309.9,337.0 L1311.9,336.7 L1313.8,336.4 L1315.8,336.2 L1317.8,335.9 L1319.8,335.7 L1321.8,335.5 L1323.8,335.3 L1325.8,335.1 L1327.8,334.9 L1329.7,334.7 L1331.7,334.5 L1333.7,334.3 L1335.7,334.2 L1337.7,334.0 L1339.7,333.8 L1341.7,333.7 L1343.7,333.5 L1345.7,333.4 L1347.7,333.2 L1349.7,333.1 L1351.7,333.0 L1353.7,332.8 L1355.7,332.7 L1357.7,332.6 L1359.7,332.4 L1361.7,332.3 L1363.6,332.2 L1365.6,332.1 L1367.6,332.0 L1369.6,331.9 L1371.6,331.8 L1373.6,331.7 L1375.6,331.6 L1377.6,331.5 L1379.6,331.4 L1381.6,331.3 L1383.6,331.2 L1385.6,331.1 L1387.6,331.0 L1389.6,331.0 L1391.6,330.9 L1393.6,330.8 L1395.6,330.7 L1397.6,330.6 L1399.6,330.6 L1401.6,330.5 L1403.6,330.4 L1405.6,330.3 L1407.6,330.3 L1409.6,330.2 L1411.6,330.1 L1413.6,330.0 L1415.6,329.9 L1417.6,329.8 L1419.6,329.7 L1421.6,329.6 L1423.6,329.5 L1425.6,329.4 L1427.6,329.3 L1429.6,329.2 L1431.6,329.1 L1433.6,329.0 L1435.6,328.9 L1437.6,328.8 L1439.6,328.6 L1441.6,328.5 L1443.6,328.4 L1445.5,328.3 L1447.5,328.2 L1449.5,328.0 L1451.5,327.9 L1453.5,327.8 L1455.5,327.7 L1457.5,327.6 L1459.5,327.5 L1461.5,327.4 L1463.5,327.3 L1465.5,327.2 L1467.5,327.2 L1469.5,327.1 L1471.5,327.0 L1473.5,326.9 L1475.5,326.8 L1477.5,326.8 L1479.5,326.7 L1481.5,326.7 L1483.5,326.6 L1485.5,326.5 L1487.5,326.5 L1489.5,326.4 L1491.5,326.4 L1493.5,326.3 L1495.5,326.2 L1497.5,326.2 L1499.5,326.1 L1501.5,326.1 L1503.5,326.0 L1505.5,325.9 L1507.5,325.9 L1509.5,325.8 L1511.5,325.8 L1513.5,325.7 L1515.5,325.6 L1517.5,325.6 L1519.5,325.5 L1521.5,325.5 L1523.5,325.4 L1525.5,325.4 L1527.5,325.3 L1529.5,325.3 L1531.5,325.2 L1533.5,325.2 L1535.5,325.1 L1537.5,325.1 L1539.5,325.1 L1541.5,325.1 L1543.5,325.0 L1545.5,325.0 L1547.5,325.0 L1549.5,325.0 L1551.5,325.0 L1553.5,325.0 L1555.5,325.0 L1557.5,325.0 L1559.5,325.0 L1561.5,325.0 L1563.5,325.0 L1565.5,325.0 L1567.5,325.0 L1569.5,325.0 L1571.5,325.0 L1573.5,325.0 L1575.5,325.0 L1577.5,325.0 L1579.5,325.0 L1581.5,325.0 L1583.5,325.0 L1585.5,325.0 L1587.5,325.0 L1588.0,325.0" stroke="#f00"/>
<path d="M220.5,308.1 L221.3,307.6 L223.1,306.6 L224.8,305.7 L226.6,304.7 L228.4,303.8 L230.1,302.9 L231.9,301.9 L233.8,301.3 L235.7,301.0 L237.7,301.0 L239.7,301.0 L241.7,301.0 L243.7,301.3 L245.6,301.9 L247.3,302.9 L249.0,304.0 L250.7,305.1 L252.4,306.1 L254.1,307.2 L255.7,308.3 L257.4,309.4 L259.1,310.5 L260.8,311.4 L262.6,312.3 L264.5,312.9 L266.4,313.5 L268.3,314.1 L270.3,314.6 L272.2,315.0 L274.2,315.4 L276.2,315.7 L278.2,316.0 L280.1,316.3 L282.1,316.5 L284.1,316.8 L286.1,317.0 L288.1,317.2 L290.1,317.4 L292.1,317.6 L294.1,317.8 L296.0,318.0 L298.0,318.2 L300.0,318.4 L302.0,318.5 L304.0,318.7 L306.0,318.9 L308.0,319.1 L310.0,319.3 L312.0,319.5 L314.0,319.7 L315.9,319.9 L317.9,320.1 L319.9,320.3 L321.9,320.5 L323.9,320.7 L325.9,320.9 L327.9,321.1 L329.9,321.3 L331.9,321.5 L333.9,321.7 L335.9,321.9 L337.8,322.1 L339.8,322.3 L341.8,322.5 L343.8,322.7 L345.8,322.9 L347.8,323.1 L349.8,323.3 L351.8,323.5 L353.8,323.7 L355.8,323.9 L357.7,324.1 L359.7,324.3 L361.7,324.5 L363.7,324.7 L365.7,324.9 L367.7,325.1 L369.7,325.3 L371.7,325.5 L373.7,325.7 L375.6,326.0 L377.6,326.2 L379.6,326.4 L381.6,326.6 L383.6,326.8 L385.6,327.0 L387.6,327.3 L389.6,327.5 L391.5,327.7 L393.5,327.9 L395.5,328.1 L397.5,328.4 L399.5,328.6 L401.5,328.8 L403.5,329.0 L405.5,329.3 L407.4,329.5 L409.4,329.7 L411.4,330.0 L413.4,330.2 L415.4,330.4 L417.4,330.7 L419.4,330.9 L421.3,331.1 L423.3,331.4 L425.3,331.6 L427.3,331.8 L429.3,332.1 L431.3,332.3 L433.3,332.6 L435.2,332.8 L437.2,333.1 L439.2,333.3 L441.2,333.6 L443.2,333.8 L445.2,334.1 L447.2,334.3 L449.1,334.6 L451.1,334.9 L453.1,335.1 L455.1,335.4 L457.1,335.7 L459.0,335.9 L461.0,336.2 L463.0,336.5 L465.0,336.8 L467.0,337.0 L468.9,337.3 L470.9,337.6 L472.9,337.9 L474.9,338.2 L476.9,338.5 L478.8,338.8 L480.8,339.1 L482.8,339.5 L484.8,339.8 L486.7,340.1 L488.7,340.5 L490.7,340.8 L492.6,341.2 L494.6,341.5 L496.6,341.9 L498.5,342.3 L500.5,342.6 L502.5,343.0 L504.4,343.4 L506.4,343.8 L508.3,344.3 L510.3,344.7 L512.2,345.1 L514.2,345.5 L516.1,345.9 L518.1,346.4 L520.0,346.8 L522.0,347.3 L523.9,347.7 L525.9,348.1 L527.8,348.6 L529.8,349.0 L531.7,349.5 L533.7,349.9 L535.7,350.4 L537.6,350.8 L539.6,351.2 L541.5,351.7 L543.5,352.1 L545.4,352.6 L547.4,353.0 L549.3,353.4 L551.3,353.9 L553.2,354.3 L555.2,354.8 L557.1,355.2 L559.1,355.7 L561.0,356.1 L563.0,356.6 L564.9,357.0 L566.8,357.5 L568.8,357.9 L570.7,358.4 L572.7,358.9 L574.6,359.4 L576.6,359.8 L578.5,360.3 L580.4,360.8 L582.4,361.3 L584.3,361.8 L586.3,362.3 L588.2,362.8 L590.1,363.3 L592.1,363.8 L594.0,364.3 L595.9,364.8 L597.9,365.3 L599.8,365.8 L601.7,366.3 L603.7,366.9 L605.6,367.4 L607.5,367.9 L609.5,368.4 L611.4,369.0 L613.3,369.5 L615.2,370.1 L617.2,370.6 L619.1,371.2 L621.0,371.7 L622.9,372.3 L624.8,372.8 L626.8,373.4 L628.7,374.0 L630.6,374.5 L632.5,375.1 L634.4,375.7 L636.3,376.3 L638.2,376.9 L640.1,377.5 L642.1,378.1 L644.0,378.7 L645.9,379.3 L647.8,379.9 L649.7,380.5 L651.6,381.2 L653.4,381.8 L655.3,382.5 L657.2,383.1 L659.1,383.8 L661.0,384.5 L662.8,385.2 L664.7,385.9 L666.6,386.7 L668.4,387.4 L670.2,388.2 L672.1,389.0 L673.9,389.8 L675.7,390.6 L677.5,391.4 L679.3,392.3 L681.2,393.1 L683.0,394.0 L684.8,394.8 L686.6,395.7 L688.4,396.5 L690.2,397.4 L692.0,398.3 L693.7,399.2 L695.5,400.1 L697.3,401.0 L699.1,401.9 L700.9,402.8 L702.6,403.7 L704.4,404.7 L706.2,405.6 L708.0,406.5 L709.7,407.4 L711.5,408.4 L713.3,409.3 L715.0,410.2 L716.8,411.2 L718.6,412.1 L720.3,413.0 L722.1,414.0 L723.9,414.9 L725.6,415.9 L727.4,416.8 L729.1,417.8 L730.9,418.8 L732.6,419.8 L734.3,420.8 L736.1,421.8 L737.8,422.8 L739.5,423.8 L741.2,424.8 L742.9,425.9 L744.6,426.9 L746.3,428.0 L748.0,429.0 L749.7,430.1 L751.4,431.1 L753.1,432.2 L754.8,433.2 L756.5,434.3 L758.2,435.4 L759.9,436.4 L761.6,437.5 L763.3,438.6 L765.0,439.6 L766.7,440.7 L768.4,441.7 L770.1,442.8 L771.8,443.8 L773.5,444.9 L775.2,445.9 L776.9,447.0 L778.6,448.0 L780.3,449.0 L782.0,450.0 L783.8,451.0 L785.5,452.0 L787.3,452.9 L789.0,453.9 L790.8,454.8 L792.6,455.7 L794.3,456.6 L796.1,457.5 L797.9,458.3 L799.7,459.2 L801.6,460.0 L803.4,460.9 L805.2,461.7 L807.0,462.5 L808.8,463.4 L810.6,464.2 L812.5,465.0 L814.3,465.8 L816.1,466.6 L817.9,467.5 L819.8,468.3 L821.6,469.1 L823.4,469.9 L825.2,470.7 L827.1,471.5 L828.9,472.3 L830.7,473.1 L832.6,473.9 L834.4,474.7 L836.3,475.5 L838.1,476.3 L840.0,477.0 L841.8,477.7 L843.7,478.5 L845.5,479.2 L847.4,479.9 L849.3,480.6 L851.2,481.3 L853.0,481.9 L854.9,482.6 L856.8,483.2 L858.7,483.9 L860.6,484.5 L862.5,485.1 L864.4,485.7 L866.3,486.3 L868.2,486.8 L870.2,487.4 L872.1,487.9 L874.0,488.4 L876.0,488.9 L877.9,489.4 L879.8,489.8 L881.8,490.2 L883.8,490.6 L885.7,491.0 L887.7,491.3 L889.6,491.7 L891.6,492.0 L893.6,492.3 L895.6,492.5 L897.5,492.8 L899.5,493.0 L901.5,493.2 L903.5,493.4 L905.5,493.5 L907.5,493.6 L909.5,493.7 L911.4,493.7 L913.4,493.7 L915.4,493.7 L917.4,493.6 L919.4,493.5 L921.3,493.4 L923.3,493.2 L925.3,492.9 L927.2,492.6 L929.1,492.2 L931.0,491.8 L932.9,491.3 L934.8,490.8 L936.7,490.1 L938.5,489.5 L940.4,488.8 L942.2,488.0 L944.0,487.2 L945.8,486.3 L947.5,485.4 L949.3,484.5 L951.0,483.5 L952.8,482.6 L954.5,481.5 L956.2,480.5 L957.8,479.4 L959.5,478.3 L961.1,477.2 L962.7,476.0 L964.3,474.8 L965.9,473.6 L967.5,472.4 L969.1,471.1 L970.6,469.9 L972.1,468.6 L973.6,467.3 L975.1,465.9 L976.5,464.6 L978.0,463.2 L979.4,461.8 L980.8,460.4 L982.2,459.0 L983.6,457.5 L985.0,456.1 L986.3,454.6 L987.7,453.1 L989.0,451.7 L990.3,450.2 L991.7,448.7 L993.0,447.2 L994.3,445.7 L995.6,444.2 L996.9,442.6 L998.2,441.1 L999.6,439.6 L1000.9,438.1 L1002.2,436.6 L1003.5,435.1 L1004.8,433.6 L1006.1,432.1 L1007.4,430.6 L1008.7,429.1 L1010.0,427.5 L1011.3,426.0 L1012.6,424.5 L1013.8,422.9 L1015.1,421.4 L1016.3,419.8 L1017.6,418.2 L1018.8,416.6 L1020.0,415.1 L1021.2,413.5 L1022.5,411.9 L1023.7,410.3 L1024.9,408.7 L1026.1,407.2 L1027.3,405.6 L1028.6,404.0 L1029.8,402.4 L1031.0,400.8 L1032.3,399.3 L1033.5,397.7 L1034.7,396.1 L1036.0,394.6 L1037.3,393.0 L1038.5,391.5 L1039.8,390.0 L1041.1,388.4 L1042.4,386.9 L1043.7,385.4 L1045.0,383.9 L1046.4,382.4 L1047.7,381.0 L1049.1,379.5 L1050.5,378.1 L1051.9,376.6 L1053.3,375.2 L1054.7,373.8 L1056.1,372.3 L1057.5,370.9 L1058.9,369.5 L1060.3,368.1 L1061.8,366.7 L1063.2,365.3 L1064.6,364.0 L1066.1,362.6 L1067.5,361.2 L1069.0,359.8 L1070.4,358.5 L1071.9,357.1 L1073.4,355.8 L1074.9,354.5 L1076.4,353.1 L1077.9,351.8 L1079.4,350.5 L1081.0,349.3 L1082.5,348.0 L1084.0,346.7 L1085.6,345.5 L1087.2,344.2 L1088.8,343.0 L1090.3,341.8 L1091.9,340.6 L1093.6,339.4 L1095.2,338.3 L1096.8,337.1 L1098.5,336.0 L1100.1,334.9 L1101.8,333.8 L1103.5,332.8 L1105.2,331.7 L1106.9,330.7 L1108.6,329.7 L1110.4,328.8 L1112.1,327.8 L1113.9,326.9 L1115.7,326.0 L1117.5,325.1 L1119.3,324.2 L1121.1,323.4 L1122.9,322.6 L1124.7,321.8 L1126.6,321.0 L1128.4,320.2 L1130.2,319.4 L1132.1,318.7 L1133.9,317.9 L1135.8,317.2 L1137.7,316.5 L1139.6,315.9 L1141.4,315.2 L1143.3,314.5 L1145.2,313.9 L1147.1,313.3 L1149.0,312.7 L1151.0,312.1 L1152.9,311.6 L1154.8,311.0 L1156.7,310.5 L1158.7,310.0 L1160.6,309.5 L1162.5,309.0 L1164.5,308.5 L1166.4,308.1 L1168.4,307.6 L1170.3,307.2 L1172.3,306.7 L1174.2,306.3 L1176.2,305.9 L1178.1,305.5 L1180.1,305.1 L1182.0,304.7 L1184.0,304.4 L1186.0,304.0 L1187.9,303.6 L1189.9,303.2 L1191.9,302.9 L1193.8,302.5 L1195.8,302.2 L1197.8,301.9 L1199.8,301.5 L1201.7,301.2 L1203.7,300.9 L1205.7,300.6 L1207.7,300.3 L1209.6,300.0 L1211.6,299.8 L1213.6,299.5 L1215.6,299.2 L1217.6,299.0 L1219.6,298.7 L1221.5,298.5 L1223.5,298.3 L1225.5,298.1 L1227.5,297.8 L1229.5,297.6 L1231.5,297.4 L1233.5,297.2 L1235.5,297.0 L1237.4,296.8 L1239.4,296.6 L1241.4,296.4 L1243.4,296.2 L1245.4,296.1 L1247.4,295.9 L1249.4,295.7 L1251.4,295.5 L1253.4,295.4 L1255.4,295.2 L1257.4,295.0 L1259.4,294.9 L1261.4,294.7 L1263.3,294.6 L1265.3,294.5 L1267.3,294.3 L1269.3,294.2 L1271.3,294.1 L1273.3,293.9 L1275.3,293.8 L1277.3,293.7 L1279.3,293.6 L1281.3,293.5 L1283.3,293.4 L1285.3,293.2 L1287.3,293.1 L1289.3,293.0 L1291.3,292.9 L1293.3,292.8 L1295.3,292.7 L1297.3,292.6 L1299.3,292.5 L1301.3,292.4 L1303.3,292.3 L1305.3,292.2 L1307.3,292.1 L1309.3,292.0 L1311.3,291.9 L1313.3,291.9 L1315.3,291.8 L1317.3,291.7 L1319.3,291.6 L1321.3,291.5 L1323.3,291.4 L1325.3,291.4 L1327.3,291.3 L1329.3,291.2 L1331.3,291.1 L1333.3,291.1 L1335.3,291.0 L1337.3,290.9 L1339.3,290.9 L1341.3,290.8 L1343.2,290.7 L1345.2,290.7 L1347.2,290.6 L1349.2,290.5 L1351.2,290.5 L1353.2,290.4 L1355.2,290.3 L1357.2,290.3 L1359.2,290.2 L1361.2,290.2 L1363.2,290.1 L1365.2,290.0 L1367.2,290.0 L1369.2,289.9 L1371.2,289.9 L1373.2,289.8 L1375.2,289.8 L1377.2,289.7 L1379.2,289.6 L1381.2,289.6 L1383.2,289.5 L1385.2,289.5 L1387.2,289.4 L1389.2,289.4 L1391.2,289.3 L1393.2,289.3 L1395.2,289.3 L1397.2,289.2 L1399.2,289.2 L1401.2,289.1 L1403.2,289.1 L1405.2,289.0 L1407.2,288.9 L1409.2,288.9 L1411.2,288.8 L1413.2,288.7 L1415.2,288.6 L1417.2,288.6 L1419.2,288.5 L1421.2,288.4 L1423.2,288.2 L1425.2,288.1 L1427.2,288.0 L1429.2,287.9 L1431.2,287.8 L1433.2,287.7 L1435.2,287.6 L1437.2,287.5 L1439.2,287.4 L1441.2,287.3 L1443.2,287.2 L1445.2,287.1 L1447.2,287.1 L1449.2,287.0 L1451.2,287.0 L1453.2,286.9 L1455.1,286.9 L1457.1,286.9 L1459.1,286.8 L1461.1,286.8 L1463.1,286.8 L1465.1,286.8 L1467.1,286.8 L1469.1,286.7 L1471.1,286.7 L1473.1,286.7 L1475.1,286.7 L1477.1,286.7 L1479.1,286.7 L1481.1,286.7 L1483.1,286.6 L1485.1,286.6 L1487.1,286.6 L1489.1,286.6 L1491.1,286.6 L1493.1,286.6 L1495.1,286.6 L1497.1,286.6 L1499.1,286.6 L1501.1,286.6 L1503.1,286.6 L1505.1,286.5 L1507.1,286.5 L1509.1,286.5 L1511.1,286.5 L1513.1,286.5 L1515.1,286.5 L1517.1,286.5 L1519.1,286.5 L1521.1,286.5 L1523.1,286.5 L1525.1,286.5 L1527.1,286.5 L1529.1,286.5 L1531.1,286.5 L1533.1,286.4 L1535.1,286.4 L1537.1,286.4 L1539.1,286.4 L1541.1,286.4 L1543.1,286.4 L1545.1,286.4 L1547.1,286.4 L1549.1,286.4 L1551.1,286.4 L1553.1,286.4 L1555.1,286.4 L1557.1,286.4 L1559.1,286.4 L1561.1,286.4 L1563.1,286.4 L1565.1,286.4 L1567.1,286.4 L1569.1,286.4 L1571.1,286.4 L1573.1,286.4 L1575.1,286.4 L1577.1,286.4 L1579.1,286.4 L1581.1,286.4 L1583.1,286.4 L1585.1,286.4 L1587.1,286.4 L1588.0,286.4" stroke="#00f"/>
</g>
<g stroke="#000" stroke-width="3.5" fill="none" stroke-linecap="butt">
<rect x="220.5" y="25.0" width="1367.5" height="1006.0"/>
</g>
<g stroke="#000" stroke-width="3" fill="none" stroke-linecap="butt">
<path d="M220.5,925.1h11.5 M220.5,819.2h21.5 M220.5,713.3h11.5 M220.5,607.4h21.5 M220.5,501.5h11.5 M220.5,395.6h21.5 M220.5,289.7h11.5 M220.5,183.8h21.5 M220.5,77.9h11.5 M391.4,1031.0v-11.5 M562.4,1031.0v-21.5 M733.3,1031.0v-11.5 M904.2,1031.0v-21.5 M1075.2,1031.0v-11.5 M1246.1,1031.0v-21.5 M1417.1,1031.0v-11.5"/>
</g>
<g font-family="'Liberation Sans', sans-serif" font-size="41" fill="#000" style="font-kerning:none">
<text x="197.7" y="1041.2" text-anchor="end">-12</text>
<text x="197.7" y="829.4" text-anchor="end">-8</text>
<text x="197.7" y="617.6" text-anchor="end">-4</text>
<text x="197.7" y="405.8" text-anchor="end">0</text>
<text x="197.7" y="194.0" text-anchor="end">4</text>
<text x="219.9" y="1083.1" text-anchor="middle">30</text>
<text x="561.8" y="1083.1" text-anchor="middle">60</text>
<text x="903.6" y="1083.1" text-anchor="middle">90</text>
<text x="1245.5" y="1083.1" text-anchor="middle">120</text>
<text x="1587.4" y="1083.1" text-anchor="middle">150</text>
</g>
<g font-family="'Liberation Sans', sans-serif" font-size="50" fill="#000" style="font-kerning:none;letter-spacing:0.2px">
<text x="707.6" y="1164">Temperature (°C)</text>
<text transform="translate(62.3,740.1) rotate(-90)" style="letter-spacing:0">Heat Flow (W<tspan dx="-1.8"> g</tspan><tspan font-size="29" dy="-28.6" dx="0.7">-</tspan><tspan font-size="29" dx="0.6">1</tspan><tspan dy="28.6" dx="-1.3">)</tspan></text>
<line x1="248" y1="842.0" x2="360" y2="842.0" stroke="#000" stroke-width="6" stroke-linecap="round"/>
<text x="372.5" y="859.3">Nafion</text>
<line x1="248" y1="903.3" x2="360" y2="903.3" stroke="#f00" stroke-width="6" stroke-linecap="round"/>
<text x="372.5" y="920.6">M5</text>
<line x1="248" y1="964.6" x2="360" y2="964.6" stroke="#00f" stroke-width="6" stroke-linecap="round"/>
<text x="372.5" y="981.9">M10</text>
</g>
</svg>
</body></html>
